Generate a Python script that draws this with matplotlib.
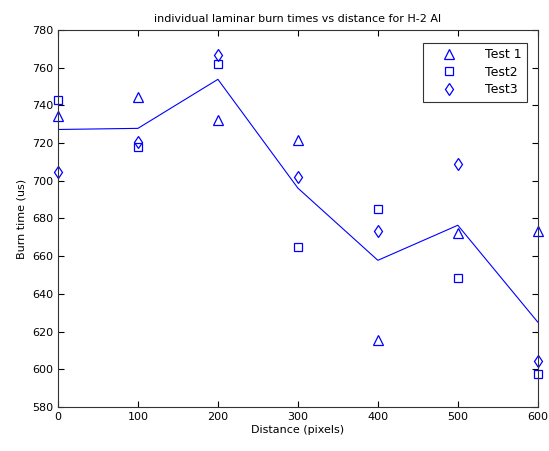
import numpy as np
import matplotlib.pyplot as plt

# Values
distance = [0, 100, 200, 300, 400, 500, 600]
test1 = [734.2, 744.5, 732.3, 721.5, 615.4, 672.1, 673.5]
test2 = [742.7, 718.0, 762.1, 665.0, 684.9, 648.3, 597.3]
test3 = [704.8, 720.8, 766.9, 701.8, 673.4, 708.7, 604.2]
mean_line = [727.2, 727.8, 753.8, 696.1, 657.8, 676.4, 625.0]

plt.rcParams['font.family'] = 'DejaVu Sans'
plt.rcParams['font.size'] = 8

fig = plt.figure(figsize=(5.49, 4.51), dpi=100)
ax = fig.add_axes([0.1056, 0.0976, 0.874, 0.836])

ax.plot(distance, test1, '^', mfc='none', mec='blue', ms=6.5, mew=0.9, label='Test 1', clip_on=False)
ax.plot(distance, test2, 's', mfc='none', mec='blue', ms=6, mew=0.9, label='Test2', clip_on=False)
ax.plot(distance, test3, 'd', mfc='none', mec='blue', ms=6.5, mew=0.9, label='Test3', clip_on=False)
ax.plot(distance, mean_line, '-', color='blue', lw=0.8)

ax.set_xlim(0, 600)
ax.set_ylim(580, 780)
ax.set_xticks(range(0, 601, 100))
ax.set_yticks(range(580, 781, 20))
ax.tick_params(direction='in', top=True, right=True, length=4, labelsize=8)
for s in ax.spines.values():
    s.set_linewidth(0.8)
    s.set_color('#333333')

ax.set_xlabel('Distance (pixels)', fontsize=8, labelpad=2)
ax.set_ylabel('Burn time (us)', fontsize=8, labelpad=4)
ax.set_title('individual laminar burn times vs distance for H-2 Al', fontsize=8, pad=6)

leg = ax.legend(loc='upper right', bbox_to_anchor=(0.977, 0.966), borderaxespad=0,
                fancybox=False, framealpha=1, edgecolor='#333333', fontsize=9,
                handlelength=3.3, handletextpad=1.2, borderpad=0.45, labelspacing=0.35)
leg.get_frame().set_linewidth(0.8)

fig.savefig('out.png', dpi=100)
